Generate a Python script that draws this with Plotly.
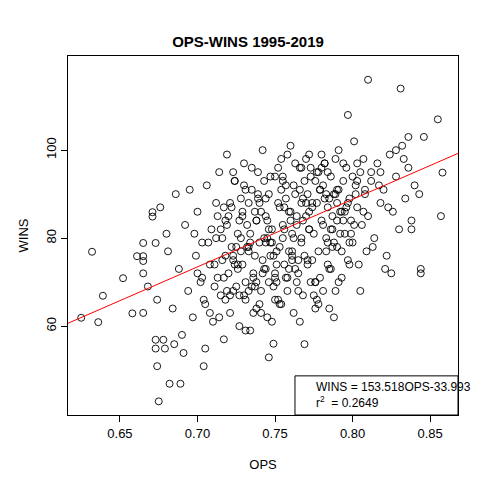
import plotly.graph_objects as go

# OPS / WINS pairs (approximate)
ops = [
    0.632, 0.625, 0.636, 0.639, 0.652, 0.658, 0.665, 0.675, 0.682, 0.689, 0.674, 0.673, 0.678, 0.673, 0.679, 0.685,
    0.691, 0.704, 0.705, 0.671, 0.671, 0.676, 0.665, 0.673, 0.661, 0.665, 0.665, 0.665, 0.668, 0.674, 0.680,
    0.681, 0.684, 0.686, 0.688, 0.690, 0.692, 0.694, 0.695, 0.697, 0.699, 0.700, 0.702, 0.703, 0.705, 0.706,
    0.708, 0.709, 0.710, 0.712, 0.713, 0.714, 0.715, 0.716, 0.717, 0.718, 0.719, 0.720, 0.721, 0.722, 0.723,
    0.724, 0.725, 0.726, 0.727, 0.728, 0.729, 0.730, 0.731, 0.732, 0.733, 0.734, 0.735, 0.736, 0.737, 0.738,
    0.739, 0.740, 0.741, 0.742, 0.743, 0.744, 0.745, 0.746, 0.747, 0.748, 0.749, 0.750, 0.751, 0.752, 0.753,
    0.754, 0.755, 0.756, 0.757, 0.758, 0.759, 0.760, 0.761, 0.762, 0.763, 0.764, 0.765, 0.766, 0.767, 0.768,
    0.769, 0.770, 0.771, 0.772, 0.773, 0.774, 0.775, 0.776, 0.777, 0.778, 0.779, 0.780, 0.781, 0.782, 0.783,
    0.784, 0.785, 0.786, 0.787, 0.788, 0.789, 0.790, 0.791, 0.792, 0.793, 0.794, 0.795, 0.796, 0.797, 0.798,
    0.799, 0.800, 0.801, 0.802, 0.803, 0.804, 0.805, 0.806, 0.807, 0.808, 0.809, 0.810, 0.812, 0.814, 0.816,
    0.818, 0.820, 0.822, 0.824, 0.826, 0.828, 0.830, 0.832, 0.834, 0.836, 0.838, 0.840, 0.810, 0.831, 0.855,
    0.857, 0.858, 0.797, 0.769, 0.746, 0.844, 0.844, 0.821, 0.825, 0.846, 0.836, 0.805, 0.785, 0.789,
    0.712, 0.716, 0.719, 0.722, 0.726, 0.729, 0.731, 0.734, 0.737, 0.739, 0.742, 0.745, 0.748, 0.751, 0.753,
    0.756, 0.759, 0.762, 0.764, 0.767, 0.771, 0.774, 0.777, 0.781, 0.784, 0.787, 0.791, 0.795, 0.799, 0.803,
    0.711, 0.715, 0.718, 0.723, 0.727, 0.730, 0.733, 0.736, 0.740, 0.743, 0.746, 0.749, 0.752, 0.755, 0.758,
    0.761, 0.765, 0.768, 0.772, 0.776, 0.779, 0.782, 0.786, 0.790, 0.794, 0.798, 0.802, 0.807, 0.812, 0.817,
    0.700, 0.704, 0.707, 0.711, 0.714, 0.717, 0.721, 0.724, 0.728, 0.731, 0.735, 0.738, 0.741, 0.744, 0.747,
    0.750, 0.754, 0.757, 0.760, 0.763, 0.766, 0.770, 0.773, 0.776, 0.780, 0.783, 0.788, 0.792, 0.796, 0.800,
    0.720, 0.725, 0.730, 0.735, 0.740, 0.745, 0.750, 0.755, 0.760, 0.765, 0.770, 0.775, 0.780, 0.785, 0.790,
    0.698, 0.703, 0.708, 0.713, 0.718, 0.723, 0.728, 0.733, 0.738, 0.743, 0.748, 0.753, 0.758, 0.763, 0.768,
    0.773, 0.778, 0.783, 0.788, 0.793, 0.798, 0.803, 0.808, 0.813, 0.818, 0.823, 0.828, 0.833, 0.838, 0.843,
    0.717, 0.721, 0.724, 0.727, 0.731, 0.734, 0.737, 0.741, 0.744, 0.747, 0.751, 0.754, 0.757, 0.761, 0.764,
    0.767, 0.771, 0.774, 0.777, 0.781, 0.784, 0.787, 0.791, 0.794, 0.797, 0.801, 0.719, 0.723, 0.729, 0.732,
    0.736, 0.739, 0.742, 0.746, 0.749, 0.752, 0.756, 0.759, 0.762, 0.766, 0.769, 0.772, 0.776, 0.779, 0.782,
    0.786, 0.789, 0.793, 0.726, 0.733, 0.738, 0.744, 0.750, 0.755, 0.761, 0.767, 0.772, 0.778, 0.784, 0.790,
]
wins = [
    76.9, 61.9, 60.9, 66.9, 70.9, 62.9, 63.0, 42.9, 46.9, 46.9, 50.9, 56.9, 56.9, 54.9, 54.9, 55.9,
    53.9, 50.9, 54.9, 85.9, 84.9, 87.0, 78.9, 78.9, 75.9, 75.9, 74.8, 72.0, 69.0, 66.0, 81.0,
    77.0, 64.0, 90.0, 73.0, 58.0, 83.0, 68.0, 91.0, 62.0, 76.0, 86.0, 70.0, 79.0, 65.0, 92.0,
    74.0, 82.0, 61.0, 88.0, 71.0, 95.0, 67.0, 80.0, 57.0, 84.0, 99.0, 72.0, 63.0, 87.0, 76.0,
    93.0, 69.0, 81.0, 60.0, 89.0, 74.0, 97.0, 66.0, 83.0, 78.0, 59.0, 91.0, 71.0, 86.0, 64.0,
    95.0, 79.0, 68.0, 100.0, 73.0, 85.0, 62.0, 90.0, 76.0, 82.0, 56.0, 94.0, 70.0, 88.0, 65.0,
    98.0, 80.0, 74.0, 92.0, 68.0, 86.0, 101.0, 77.0, 63.0, 90.0, 83.0, 72.0, 96.0, 79.0, 67.0,
    93.0, 85.0, 75.0, 99.0, 70.0, 88.0, 81.0, 64.0, 95.0, 77.0, 91.0, 84.0, 68.0, 97.0, 80.0,
    87.0, 73.0, 94.0, 82.0, 62.0, 90.0, 78.0, 100.0, 86.0, 71.0, 93.0, 81.0, 96.0, 75.0, 89.0,
    84.0, 79.0, 102.0, 92.0, 87.0, 74.0, 95.0, 83.0, 98.0, 90.0, 77.0, 85.0, 93.0, 80.0, 97.0,
    88.0, 91.0, 76.0, 99.0, 86.0, 94.0, 82.0, 101.0, 89.0, 96.0, 84.0, 92.0, 116.0, 114.0, 107.0,
    85.0, 94.9, 108.0, 55.9, 52.9, 73.0, 72.0, 73.0, 72.0, 103.0, 103.0, 68.0, 64.0, 68.0,
    80.0, 75.0, 83.0, 78.0, 73.0, 86.0, 70.0, 81.0, 76.0, 89.0, 72.0, 84.0, 79.0, 74.0, 87.0,
    82.0, 77.0, 92.0, 85.0, 80.0, 90.0, 75.0, 88.0, 83.0, 95.0, 78.0, 91.0, 86.0, 81.0, 93.0,
    69.0, 82.0, 66.0, 75.0, 84.0, 67.0, 77.0, 72.0, 65.0, 80.0, 70.0, 76.0, 66.0, 83.0, 71.0,
    75.0, 68.0, 89.0, 82.0, 70.0, 91.0, 97.0, 73.0, 88.0, 84.0, 79.0, 90.0, 86.0, 95.0, 92.0,
    72.0, 66.0, 79.0, 74.0, 62.0, 87.0, 67.0, 93.0, 77.0, 59.0, 96.0, 84.0, 63.0, 89.0, 79.0,
    66.0, 91.0, 71.0, 84.0, 97.0, 61.0, 88.0, 94.0, 70.0, 99.0, 77.0, 90.0, 81.0, 87.0, 94.0,
    85.0, 78.0, 92.0, 69.0, 88.0, 80.0, 72.0, 94.0, 86.0, 75.0, 98.0, 67.0, 96.0, 89.0, 84.0,
    81.0, 71.0, 63.0, 85.0, 76.0, 68.0, 80.0, 88.0, 70.0, 93.0, 61.0, 78.0, 99.0, 73.0, 84.0,
    96.0, 65.0, 90.0, 79.0, 86.0, 74.0, 97.0, 91.0, 78.0, 95.0, 87.0, 100.0, 98.0, 82.0, 90.0,
    71.0, 88.0, 74.0, 67.0, 91.0, 79.0, 69.0, 86.0, 73.0, 94.0, 77.0, 65.0, 89.0, 81.0, 70.0,
    96.0, 74.0, 87.0, 66.0, 92.0, 79.0, 85.0, 70.0, 97.0, 88.0, 83.0, 68.0, 95.0, 85.0, 78.0,
    63.0, 90.0, 75.0, 82.0, 69.0, 96.0, 87.0, 73.0, 80.0, 91.0, 76.0, 86.0, 93.0, 71.0, 89.0,
    82.0, 98.0, 77.0, 74.0, 68.0, 84.0, 79.0, 71.0, 93.0, 76.0, 88.0, 82.0, 95.0, 74.0, 91.0,
]

slope = 153.518
intercept = -33.993
line_x = [0.6165, 0.868]
line_y = [slope * v + intercept for v in line_x]

fig = go.Figure()
fig.add_trace(go.Scatter(x=ops, y=wins, mode="markers",
                         marker=dict(symbol="circle-open", size=7, color="black",
                                     line=dict(width=0.9, color="black")),
                         showlegend=False))
fig.add_trace(go.Scatter(x=line_x, y=line_y, mode="lines",
                         line=dict(color="red", width=1), showlegend=False))

axis_style = dict(showline=True, linecolor="black", linewidth=1, mirror=True,
                  ticks="outside", ticklen=6, tickcolor="black",
                  showgrid=False, zeroline=False, automargin=False,
                  tickfont=dict(family="Liberation Sans, Arial", size=13, color="black"))

fig.update_xaxes(range=[0.6165, 0.868], tickvals=[0.65, 0.70, 0.75, 0.80, 0.85],
                 ticktext=["0.65", "0.70", "0.75", "0.80", "0.85"],
                 title=dict(text="OPS", font=dict(family="Liberation Sans, Arial", size=13, color="black"),
                            standoff=20), **axis_style)
fig.update_yaxes(range=[39.8, 121.4], tickvals=[60, 80, 100], tickangle=-90,
                 title=dict(text="WINS", font=dict(family="Liberation Sans, Arial", size=13, color="black"),
                            standoff=12), **axis_style)

# r^2 box at the bottom right
fig.add_shape(type="rect", xref="paper", yref="paper", x0=0.582, x1=1.0, y0=0.0, y1=0.109,
              line=dict(color="black", width=1), fillcolor="white", layer="above")
fig.add_annotation(xref="paper", yref="paper", x=0.63, y=0.055, xanchor="left", yanchor="middle",
                   showarrow=False, align="left",
                   text="WINS = 153.518OPS-33.993<br>r<sup>2</sup>  = 0.2649",
                   font=dict(family="Liberation Sans, Arial", size=12, color="black"))

fig.update_layout(
    width=480, height=480,
    margin=dict(l=60, r=30, t=48, b=73),
    paper_bgcolor="white", plot_bgcolor="white",
    title=dict(text="<b>OPS-WINS 1995-2019</b>", x=0.5, xanchor="center", y=0.94,
               font=dict(family="Liberation Sans, Arial", size=15, color="black")),
)

fig.write_html("out.html")
